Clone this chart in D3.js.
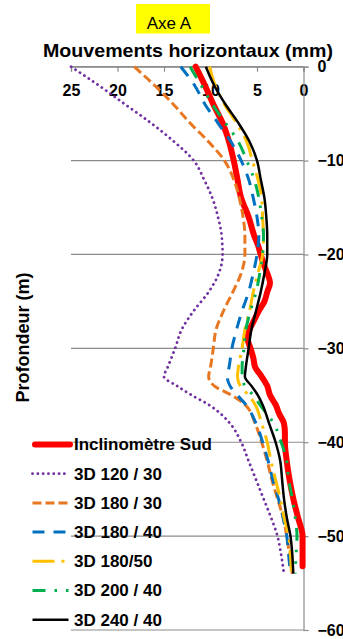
<!DOCTYPE html>
<html><head><meta charset="utf-8">
<script src="https://cdn.jsdelivr.net/npm/d3@7"></script>
<style>
html,body{margin:0;padding:0;background:#fff;}
svg{display:block;font-family:"Liberation Sans",Arial,sans-serif;}
</style></head>
<body><svg id="c" width="343" height="639"></svg>
<script>
// ---- data ----
const xTicks = [25, 20, 15, 10, 5, 0];
const yTicks = [0, -10, -20, -30, -40, -50, -60];
const depthModel = [0,-2,-4,-6,-8,-10,-12,-14,-16,-18,-20,-22,-24,-26,-28,-30,-32,-33,-34,-35,-36,-38,-40,-42,-44,-46,-48,-50,-52,-54];
const v120_30 = [25.0,22.0,19.2,16.4,13.9,11.8,10.7,9.8,9.2,8.8,8.7,9.1,10.2,11.8,13.1,13.8,14.6,15.0,13.6,12.0,10.2,7.9,6.7,5.9,5.1,4.3,3.5,2.8,2.4,2.1];
const v180_30 = [18.2,16.0,14.0,12.2,10.2,8.5,7.5,6.9,6.5,6.3,6.3,6.7,7.6,8.6,9.4,9.7,10.0,10.2,9.6,7.7,6.3,5.2,4.5,3.9,3.4,2.8,2.2,1.8,1.5,1.2];
const v180_40 = [13.2,11.7,10.6,9.2,7.8,6.7,5.9,5.4,5.0,4.8,5.0,5.4,5.9,6.6,7.2,7.7,8.0,8.2,7.9,7.1,6.2,5.1,4.4,3.8,3.3,2.7,2.2,1.8,1.6,1.4];
const v180_50 = [10.1,9.5,8.5,7.2,6.1,5.5,4.9,4.5,4.4,4.3,4.4,4.9,5.4,5.8,6.3,6.6,7.0,7.1,6.8,5.9,5.2,4.5,3.9,3.5,3.0,2.5,2.1,1.6,1.4,1.3];
const v200_40 = [12.2,11.0,9.8,8.4,7.0,6.1,5.3,4.8,4.5,4.3,4.4,4.7,5.1,5.7,6.2,6.4,6.6,6.6,6.3,5.4,4.7,3.2,2.4,1.8,1.6,1.2,0.9,0.7,0.8,0.9];
const v240_40 = [10.5,9.6,8.4,7.0,5.8,5.0,4.6,4.2,4.0,3.9,3.9,4.2,4.6,5.1,5.6,5.9,6.2,6.3,5.6,4.9,4.4,3.7,3.0,2.5,2.3,2.1,1.8,1.4,1.2,1.1];
const depthIncl = [0,-2,-4,-6,-8,-10,-12,-14,-16,-18,-19,-20,-21,-22,-23,-24,-25,-26,-27,-28,-29,-30,-31,-32,-33,-34,-35,-36,-37,-38,-39,-40,-42,-44,-46,-48,-50,-53.2];
const vIncl = [11.6,10.6,9.7,8.7,8.0,7.5,7.1,6.7,5.9,5.3,4.9,4.6,4.3,3.9,3.6,3.9,4.2,4.8,5.3,5.8,6.0,5.7,5.4,5.2,4.5,3.9,3.6,3.0,2.6,2.1,2.0,2.0,1.8,1.5,1.1,0.6,0.1,0.1];
const seriesNames = ["Inclinomètre Sud","3D 120 / 30","3D 180 / 30","3D 180 / 40","3D 180/50","3D 200 / 40","3D 240 / 40"];

// ---- styles ----
const styles = [
  {color:"#FF0000", w:6, dash:null, cap:"round"},
  {color:"#7030A0", w:2.8, dash:"0.1,5.2", cap:"round"},
  {color:"#E87722", w:3, dash:"9,4", cap:"butt"},
  {color:"#0070C0", w:3, dash:"12,9", cap:"butt"},
  {color:"#FFC000", w:3, dash:"22,7,3,7", cap:"butt"},
  {color:"#00B050", w:3, dash:"13,9,2.5,9,2.5,9", cap:"butt"},
  {color:"#000000", w:2.5, dash:null, cap:"butt"}
];
const seriesData = [
  depthIncl.map((d,i)=>({d, v:vIncl[i]})),
  depthModel.map((d,i)=>({d, v:v120_30[i]})),
  depthModel.map((d,i)=>({d, v:v180_30[i]})),
  depthModel.map((d,i)=>({d, v:v180_40[i]})),
  depthModel.map((d,i)=>({d, v:v180_50[i]})),
  depthModel.map((d,i)=>({d, v:v200_40[i]})),
  depthModel.map((d,i)=>({d, v:v240_40[i]}))
];

const svg = d3.select("#c");
const x = d3.scaleLinear().domain([25,0]).range([71,303.5]);
const y = d3.scaleLinear().domain([0,-60]).range([66.7,630]);
const grid = "#8c8c8c";

// title box
svg.append("rect").attr("x",136).attr("y",4).attr("width",74).attr("height",29.5).attr("fill","#FFFF00");
svg.append("text").attr("x",169).attr("y",29).attr("text-anchor","middle")
  .attr("font-size",17).attr("fill","#000").text("Axe A");
svg.append("text").attr("x",188).attr("y",56.5).attr("text-anchor","middle")
  .attr("font-size",18.5).attr("font-weight","bold").attr("textLength",290).attr("lengthAdjust","spacingAndGlyphs")
  .text("Mouvements horizontaux (mm)");
svg.append("text").attr("transform","translate(28.5,337.5) rotate(-90)").attr("text-anchor","middle")
  .attr("font-size",18).attr("font-weight","bold").text("Profondeur (m)");

// gridlines
svg.append("g").selectAll("line").data(yTicks).join("line")
  .attr("x1",x(25)).attr("x2",x(0)).attr("y1",d=>y(d)).attr("y2",d=>y(d))
  .attr("stroke",grid).attr("stroke-width",1.2);

// top axis
const gx = svg.append("g").attr("transform",`translate(0,${y(0)})`)
  .call(d3.axisBottom(x).tickValues(xTicks).tickSize(5).tickPadding(13).tickFormat(d3.format("d")));
gx.select(".domain").attr("stroke",grid).attr("stroke-width",1.2);
gx.selectAll(".tick line").attr("stroke",grid).attr("stroke-width",1.2);
gx.selectAll(".tick text").attr("font-size",16).attr("font-weight","bold").attr("fill","#000")
  .attr("font-family","Liberation Sans, Arial, sans-serif");

// right axis
const gy = svg.append("g").attr("transform",`translate(${x(0)},0)`)
  .call(d3.axisRight(y).tickValues(yTicks).tickSize(5).tickPadding(9).tickFormat(d3.format("d")));
gy.select(".domain").attr("stroke",grid).attr("stroke-width",1.2);
gy.selectAll(".tick line").attr("stroke",grid).attr("stroke-width",1.2);
gy.selectAll(".tick text").attr("font-size",16).attr("font-weight","bold").attr("fill","#000")
  .attr("font-family","Liberation Sans, Arial, sans-serif");

// series
const line = d3.line().x(p=>x(p.v)).y(p=>y(p.d)).curve(d3.curveMonotoneY);
svg.append("g").selectAll("path").data(seriesData).join("path")
  .attr("d",line).attr("fill","none")
  .attr("stroke",(d,i)=>styles[i].color).attr("stroke-width",(d,i)=>styles[i].w)
  .attr("stroke-dasharray",(d,i)=>styles[i].dash).attr("stroke-linecap",(d,i)=>styles[i].cap)
  .attr("stroke-linejoin","round");

// legend
const lg = svg.append("g").selectAll("g").data(seriesNames).join("g")
  .attr("transform",(d,i)=>`translate(0,${444.5 + i*29.2})`);
lg.append("line").attr("x1",(d,i)=>i===0?35:32.5).attr("x2",(d,i)=>i===0?70:68.5).attr("y1",0).attr("y2",0)
  .attr("stroke",(d,i)=>styles[i].color).attr("stroke-width",(d,i)=>styles[i].w)
  .attr("stroke-dasharray",(d,i)=>styles[i].dash).attr("stroke-linecap",(d,i)=>styles[i].cap);
lg.append("text").attr("x",74).attr("y",0).attr("dy","0.35em").attr("font-size",17).attr("font-weight","bold")
  .text(d=>d);
</script></body></html>
